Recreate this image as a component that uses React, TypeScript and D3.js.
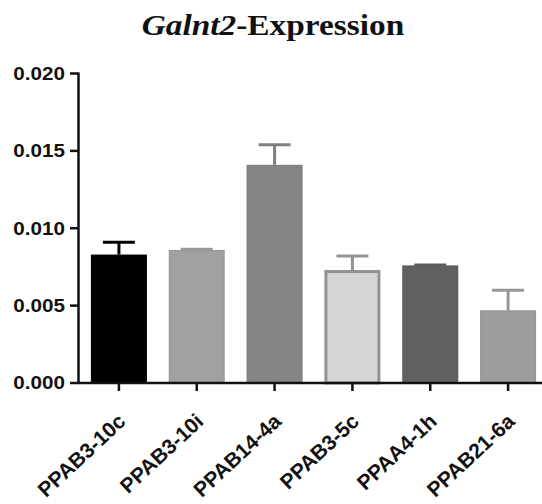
import React from "react";
import * as d3 from "d3";

const categories = ["PPAB3-10c", "PPAB3-10i", "PPAB14-4a", "PPAB3-5c", "PPAA4-1h", "PPAB21-6a"];
const means = [0.0083, 0.0086, 0.0141, 0.0073, 0.0076, 0.0047];
const errors = [0.0008, 0.00005, 0.0013, 0.0009, 0.00003, 0.0013];
const fills = ["#000000", "#a1a1a4", "#858585", "#d6d6d6", "#616161", "#9d9d9d"];
const strokes = ["#000000", "#9a9a9d", "#808080", "#939393", "#5c5c5c", "#979797"];
const yTicks = [0, 0.005, 0.01, 0.015, 0.02];

const W = 542;
const H = 504;
const SX = 1.18;

export default function App() {
  const y = d3.scaleLinear().domain([0, 0.02]).range([383, 73.5]);
  const x = d3.scaleBand<string>().domain(categories).range([80, 547]).paddingInner(0.28).paddingOuter(0.14);
  const fmt = d3.format(".3f");
  const axisX = 78.5;
  const bw = x.bandwidth();
  const capW = bw * 0.57;

  return (
    <svg width={W} height={H} style={{ position: "absolute", left: 0, top: 0, background: "#fff" }}>
      <g transform={`translate(273,35) scale(1.15,1)`}>
        <text textAnchor="middle" fontFamily="'Liberation Serif', 'Times New Roman', serif" fontWeight="bold" fontSize={29} fill="#111">
          <tspan fontStyle="italic">Galnt2</tspan>
          <tspan>-Expression</tspan>
        </text>
      </g>
      {categories.map((c, i) => {
        const x0 = x(c)!;
        const yt = y(means[i]);
        const ye = y(means[i] + errors[i]);
        const cx = x0 + bw / 2;
        const sw = i === 3 ? 3 : 1.5;
        return (
          <g key={c}>
            <line x1={cx} x2={cx} y1={yt} y2={ye} stroke={strokes[i]} strokeWidth={3} />
            <line x1={cx - capW / 2} x2={cx + capW / 2} y1={ye} y2={ye} stroke={strokes[i]} strokeWidth={3} />
            <rect
              x={x0 + sw / 2}
              y={yt + sw / 2}
              width={bw - sw}
              height={y(0) - yt - sw / 2}
              fill={fills[i]}
              stroke={strokes[i]}
              strokeWidth={sw}
            />
          </g>
        );
      })}
      {/* y axis */}
      <line x1={axisX} x2={axisX} y1={y(0.02) - 1} y2={y(0) + 1} stroke="#111" strokeWidth={2.5} />
      {yTicks.map((t) => (
        <g key={t}>
          <line x1={70} x2={axisX} y1={y(t)} y2={y(t)} stroke="#111" strokeWidth={2.5} />
          <g transform={`translate(65,${y(t)}) scale(${SX},1)`}>
            <text textAnchor="end" dy="0.36em" fontFamily="'Liberation Sans', Arial, sans-serif" fontWeight="bold" fontSize={17.5} fill="#111">
              {fmt(t)}
            </text>
          </g>
        </g>
      ))}
      {/* x axis */}
      <line x1={axisX - 1} x2={W} y1={y(0)} y2={y(0)} stroke="#111" strokeWidth={2.5} />
      {categories.map((c) => {
        const cx = x(c)! + bw / 2;
        return (
          <g key={"t" + c}>
            <line x1={cx} x2={cx} y1={y(0)} y2={y(0) + 8} stroke="#111" strokeWidth={2.5} />
            <g transform={`translate(${cx + 8},423) rotate(-43)`}>
              <text textAnchor="end" fontFamily="'Liberation Sans', Arial, sans-serif" fontWeight="bold" fontSize={21} fill="#111">
                {c}
              </text>
            </g>
          </g>
        );
      })}
    </svg>
  );
}
